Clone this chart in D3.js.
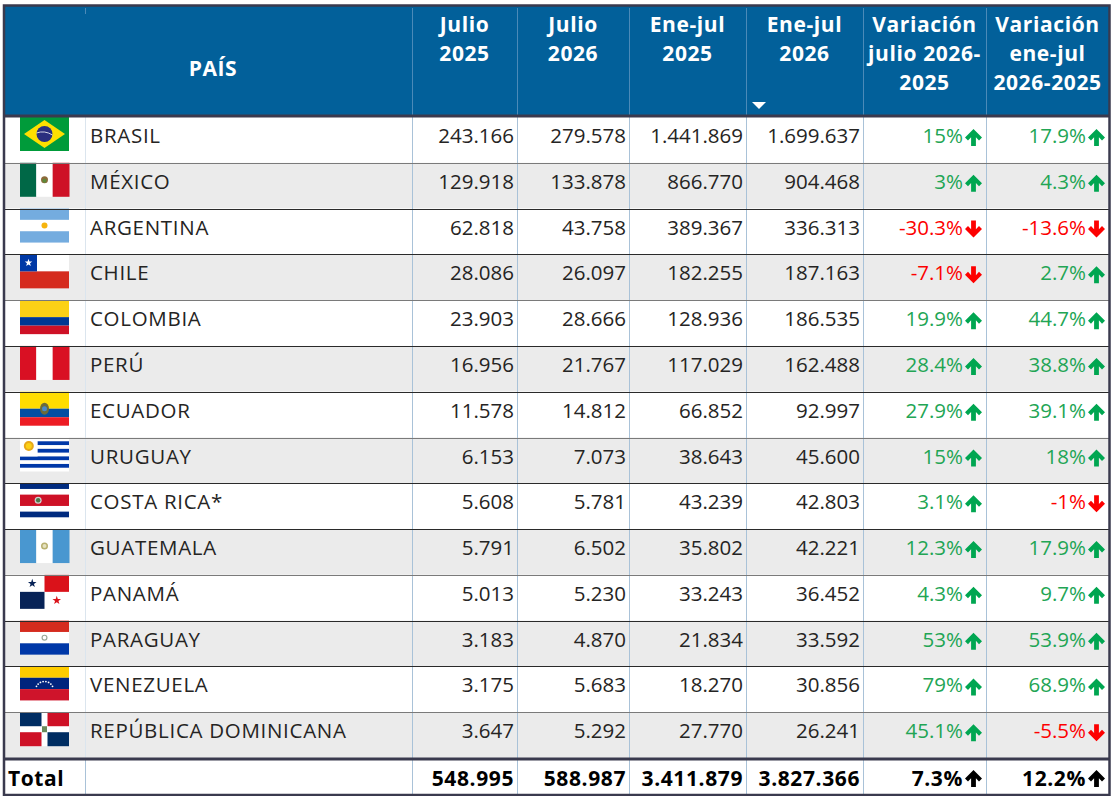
<!DOCTYPE html>
<html><head><meta charset="utf-8">
<script src="https://cdn.jsdelivr.net/npm/d3@7"></script>
<style>
html,body{margin:0;padding:0;background:#fff;}
svg{display:block;font-family:"Open Sans","Noto Sans",sans-serif;}
</style></head>
<body>
<svg id="chart" width="1113" height="796"></svg>
<script>
// ---- data ----
const countries = ["BRASIL","MÉXICO","ARGENTINA","CHILE","COLOMBIA","PERÚ","ECUADOR","URUGUAY","COSTA RICA*","GUATEMALA","PANAMÁ","PARAGUAY","VENEZUELA","REPÚBLICA DOMINICANA"];
const flagCodes = ["br","mx","ar","cl","co","pe","ec","uy","cr","gt","pa","py","ve","do"];
const julio2025 = [243166,129918,62818,28086,23903,16956,11578,6153,5608,5791,5013,3183,3175,3647];
const julio2026 = [279578,133878,43758,26097,28666,21767,14812,7073,5781,6502,5230,4870,5683,5292];
const enejul2025 = [1441869,866770,389367,182255,128936,117029,66852,38643,43239,35802,33243,21834,18270,27770];
const enejul2026 = [1699637,904468,336313,187163,186535,162488,92997,45600,42803,42221,36452,33592,30856,26241];
const varJulio = [15,3,-30.3,-7.1,19.9,28.4,27.9,15,3.1,12.3,4.3,53,79,45.1];
const varEneJul = [17.9,4.3,-13.6,2.7,44.7,38.8,39.1,18,-1,17.9,9.7,53.9,68.9,-5.5];
const totalLabel = "Total";
const totals = [548995,588987,3411879,3827366];
const totalVar = [7.3,12.2];
const headers = [["PAÍS"],["Julio","2025"],["Julio","2026"],["Ene-jul","2025"],["Ene-jul","2026"],["Variación","julio 2026-","2025"],["Variación","ene-jul","2026-2025"]];

// ---- setup ----
const svg = d3.select("#chart");
const loc = d3.formatLocale({decimal:",", thousands:".", grouping:[3], currency:["",""], minus:"-"});
const fmtNum = loc.format(",d");
const fmtPct = d3.formatLocale({decimal:".", thousands:",", grouping:[3], currency:["",""], minus:"-"}).format(".1~f");

const colKeys = ["flag","name","j25","j26","e25","e26","v1","v2"];
const edges = [5,85,412,517,629,746,863,986,1109];
const colX = d3.scaleOrdinal().domain(colKeys).range(edges.slice(0,8));
const colR = d3.scaleOrdinal().domain(colKeys).range(edges.slice(1));
const y = d3.scaleBand().domain(countries).range([117,758]).padding(0);
const rows = countries.map((c,i)=>({name:c,flag:flagCodes[i],vals:[julio2025[i],julio2026[i],enejul2025[i],enejul2026[i]],vars:[varJulio[i],varEneJul[i]],i}));

const HEAD = "#02609a", BORDER = "#3a3a4e";
const FS = 20.5;

// header
svg.append("rect").attr("x",5).attr("y",6).attr("width",1104).attr("height",111).attr("fill",HEAD);
svg.selectAll("line.hsep").data(edges.slice(2,8)).join("line")
  .attr("x1",d=>d+0.5).attr("x2",d=>d+0.5).attr("y1",8).attr("y2",115)
  .attr("stroke","#4b8ab8").attr("stroke-width",1);
svg.append("line").attr("x1",85.5).attr("x2",85.5).attr("y1",8).attr("y2",14).attr("stroke","#4b8ab8");

const hcols = [{cx:213},{k:"j25"},{k:"j26"},{k:"e25"},{k:"e26"},{k:"v1"},{k:"v2"}];
headers.forEach((lines,hi)=>{
  const cx = hi===0 ? 213 : (colX(hcols[hi].k)+colR(hcols[hi].k))/2;
  const t = svg.append("text").attr("text-anchor","middle").attr("fill","#fff")
    .attr("font-weight","bold").attr("font-size",21).attr("letter-spacing",0.6);
  if(hi===0){ t.attr("x",cx).attr("y",76).text(lines[0]); }
  else lines.forEach((l,li)=>t.append("tspan").attr("x",cx).attr("y",32+li*29).text(l));
});
svg.append("path").attr("d",d3.line()([[752,102],[766,102],[759,109]])+"Z").attr("fill","#fff");

// body rows
const rowG = svg.selectAll("g.row").data(rows).join("g").attr("class","row")
  .attr("transform",d=>`translate(0,${y(d.name)})`);
rowG.append("rect").attr("x",5).attr("width",1104).attr("height",y.bandwidth())
  .attr("fill",d=>d.i%2? "#ebebeb":"#ffffff");

svg.selectAll("line.bsep").data(edges.slice(2,8)).join("line")
  .attr("x1",d=>d+0.5).attr("x2",d=>d+0.5).attr("y1",117).attr("y2",795)
  .attr("stroke","#a9c2d8").attr("stroke-width",1);
svg.append("line").attr("x1",85.5).attr("x2",85.5).attr("y1",117).attr("y2",795).attr("stroke","#dbe5ee");

svg.selectAll("line.rsep").data(countries.slice(1)).join("line")
  .attr("x1",5).attr("x2",1109).attr("y1",d=>Math.round(y(d))+0.5).attr("y2",d=>Math.round(y(d))+0.5)
  .attr("stroke",(d,i)=> i%3===0 ? "#7a7a7a":"#2a2a2a").attr("stroke-width",1);

function drawFlag(g,code,w,h){
  const R=(x,yy,ww,hh,f)=>g.append("rect").attr("x",x).attr("y",yy).attr("width",ww).attr("height",hh).attr("fill",f);
  const star=(cx,cy,r,f)=>{const p=[];for(let k=0;k<10;k++){const a=-Math.PI/2+k*Math.PI/5;const rr=k%2?r*0.4:r;p.push([cx+rr*Math.cos(a),cy+rr*Math.sin(a)]);}g.append("path").attr("d",d3.line()(p)+"Z").attr("fill",f);};
  const C=(cx,cy,r,f)=>g.append("circle").attr("cx",cx).attr("cy",cy).attr("r",r).attr("fill",f);
  switch(code){
    case "br": R(0,0,w,h,"#009b3a"); g.append("path").attr("d",d3.line()([[w/2,3],[w-4,h/2],[w/2,h-3],[4,h/2]])+"Z").attr("fill","#fedf00"); C(w/2,h/2,8,"#2a2f7f"); g.append("path").attr("d",`M${w/2-8},${h/2-1} Q${w/2},${h/2-4} ${w/2+8},${h/2+1}`).attr("stroke","#fff").attr("fill","none").attr("stroke-width",0.8); break;
    case "mx": R(0,0,w/3,h,"#006847"); R(w/3,0,w/3,h,"#fff"); R(2*w/3,0,w/3+0.5,h,"#ce1126"); C(w/2,h/2,3.5,"#8c6b3a"); C(w/2,h/2+1,2,"#5c8a3a"); break;
    case "ar": R(0,0,w,h/3,"#74acdf"); R(0,h/3,w,h/3,"#fff"); R(0,2*h/3,w,h/3,"#74acdf"); C(w/2,h/2,3,"#f6b40e"); break;
    case "cl": R(0,0,w,h/2,"#fff"); R(0,h/2,w,h/2,"#d52b1e"); R(0,0,h/2,h/2,"#0039a6"); star(h/4,h/4,4,"#fff"); break;
    case "co": R(0,0,w,h/2,"#fcd116"); R(0,h/2,w,h/4,"#003893"); R(0,3*h/4,w,h/4,"#ce1126"); break;
    case "pe": R(0,0,w/3,h,"#d91023"); R(w/3,0,w/3,h,"#fff"); R(2*w/3,0,w/3+0.5,h,"#d91023"); break;
    case "ec": R(0,0,w,h/2,"#ffdd00"); R(0,h/2,w,h/4,"#034ea2"); R(0,3*h/4,w,h/4,"#ed1c24"); g.append("ellipse").attr("cx",w/2).attr("cy",h/2).attr("rx",4.5).attr("ry",6).attr("fill","#6b6b3a"); C(w/2,h/2,2.5,"#4a8ac8"); break;
    case "uy": R(0,0,w,h,"#fff"); for(let k=1;k<9;k+=2) R(0,k*h/9,w,h/9,"#0038a8"); R(0,0,w*0.36,h*5/9,"#fff"); C(w*0.18,h*0.25,5,"#e8a818"); C(w*0.18,h*0.25,3,"#fcd116"); break;
    case "cr": R(0,0,w,h,"#fff"); R(0,0,w,h/6,"#002b7f"); R(0,5*h/6,w,h/6,"#002b7f"); R(0,2*h/6,w,2*h/6,"#ce1126"); C(w/2.7,h/2,3.5,"#d0d0d0"); C(w/2.7,h/2,2.2,"#4a7a4a"); break;
    case "gt": R(0,0,w/3,h,"#4997d0"); R(w/3,0,w/3,h,"#fff"); R(2*w/3,0,w/3+0.5,h,"#4997d0"); C(w/2,h/2,3.5,"#b8b070"); C(w/2,h/2,2,"#e6e2c0"); break;
    case "pa": R(0,0,w,h,"#fff"); R(w/2,0,w/2,h/2,"#da121a"); R(0,h/2,w/2,h/2,"#072357"); star(w/4,h/4,4.5,"#072357"); star(3*w/4,3*h/4,4.5,"#da121a"); break;
    case "py": R(0,0,w,h/3,"#d52b1e"); R(0,h/3,w,h/3,"#fff"); R(0,2*h/3,w,h/3,"#0038a8"); C(w/2,h/2,3,"#9aa89a"); C(w/2,h/2,1.8,"#fff"); break;
    case "ve": R(0,0,w,h/3,"#ffcc00"); R(0,h/3,w,h/3,"#00247d"); R(0,2*h/3,w,h/3,"#cf142b"); for(let k=0;k<8;k++){const a=Math.PI*(1.15+0.7*k/7); C(w/2+9*Math.cos(a),h/2+7+9*Math.sin(a),0.9,"#fff");} break;
    case "do": R(0,0,w,h,"#fff"); R(0,0,w/2-3,h/2-3,"#002d62"); R(w/2+3,0,w/2-3,h/2-3,"#ce1126"); R(0,h/2+3,w/2-3,h/2-3,"#ce1126"); R(w/2+3,h/2+3,w/2-3,h/2-3,"#002d62"); R(w/2-2.5,h/2-3,5,6,"#6a8a5a"); break;
  }
}
rowG.each(function(d){
  const g = d3.select(this).append("g").attr("transform","translate(20,0)");
  drawFlag(g,d.flag,49,34);
});

rowG.append("text").attr("x",90).attr("y",26).attr("font-size",FS).attr("letter-spacing",0.7).attr("fill","#252423").text(d=>d.name);

const numKeys = ["j25","j26","e25","e26"];
numKeys.forEach((k,ki)=>{
  rowG.append("text").attr("x",colR(k)-3).attr("y",26).attr("text-anchor","end")
    .attr("font-size",FS).attr("fill","#252423").text(d=>fmtNum(d.vals[ki]));
});

function arrowPath(up){
  const pts = [[8.5,0],[17,8.5],[14,11.5],[10.9,8.2],[10.9,17],[6.1,17],[6.1,8.2],[3,11.5],[0,8.5]];
  const p = up ? pts : pts.map(([a,b])=>[a,17-b]);
  return d3.line()(p)+"Z";
}
const GREEN_T="#22a554", GREEN_A="#00a651", RED="#fd0000";
["v1","v2"].forEach((k,ki)=>{
  rowG.append("text").attr("x",colR(k)-23).attr("y",26).attr("text-anchor","end")
    .attr("font-size",FS).attr("fill",d=>d.vars[ki]>=0?GREEN_T:RED).text(d=>fmtPct(d.vars[ki])+"%");
  rowG.append("path").attr("transform",`translate(${colR(k)-21},12)`)
    .attr("d",d=>arrowPath(d.vars[ki]>=0)).attr("fill",d=>d.vars[ki]>=0?GREEN_A:RED);
});

// total row
const ty = 759;
svg.append("rect").attr("x",5).attr("y",ty).attr("width",1104).attr("height",36).attr("fill","#fff");
svg.selectAll("line.tsep").data(edges.slice(1,8)).join("line")
  .attr("x1",d=>d+0.5).attr("x2",d=>d+0.5).attr("y1",ty).attr("y2",795)
  .attr("stroke","#a9c2d8");
svg.append("line").attr("x1",5).attr("x2",1109).attr("y1",ty).attr("y2",ty).attr("stroke",BORDER).attr("stroke-width",3);
svg.append("text").attr("x",8).attr("y",ty+27).attr("font-size",21).attr("font-weight","bold").attr("letter-spacing",0.6).attr("fill","#000").text(totalLabel);
numKeys.forEach((k,ki)=>{
  svg.append("text").attr("x",colR(k)-3).attr("y",ty+27).attr("text-anchor","end")
    .attr("font-size",21).attr("font-weight","bold").attr("letter-spacing",0.6).attr("fill","#000").text(fmtNum(totals[ki]));
});
["v1","v2"].forEach((k,ki)=>{
  svg.append("text").attr("x",colR(k)-23).attr("y",ty+27).attr("text-anchor","end")
    .attr("font-size",21).attr("font-weight","bold").attr("letter-spacing",0.6).attr("fill","#000").text(fmtPct(totalVar[ki])+"%");
  svg.append("path").attr("transform",`translate(${colR(k)-21},${ty+11})`)
    .attr("d",arrowPath(totalVar[ki]>=0)).attr("fill","#000");
});

svg.append("line").attr("x1",5).attr("x2",1109).attr("y1",116).attr("y2",116).attr("stroke",BORDER).attr("stroke-width",3);
svg.append("rect").attr("x",4).attr("y",5.5).attr("width",1105.5).attr("height",789.5).attr("fill","none").attr("stroke",BORDER).attr("stroke-width",2.5);
</script>
</body></html>
